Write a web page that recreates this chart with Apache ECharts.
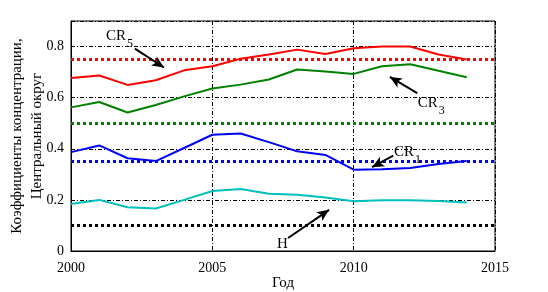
<!DOCTYPE html>
<html>
<head>
<meta charset="utf-8">
<script src="https://cdn.jsdelivr.net/npm/echarts@6/dist/echarts.min.js"></script>
<style>
  html, body { margin: 0; padding: 0; background: #fff; }
  #main { width: 548px; height: 292px; }
</style>
</head>
<body>
<div id="main"></div>
<script type="text/javascript">
    // годы и значения коэффициентов
    var years = [2000, 2001, 2002, 2003, 2004, 2005, 2006, 2007, 2008, 2009, 2010, 2011, 2012, 2013, 2014];
    var cr5 = [0.677, 0.687, 0.650, 0.668, 0.707, 0.723, 0.752, 0.769, 0.788, 0.771, 0.793, 0.800, 0.800, 0.769, 0.749];
    var cr3 = [0.562, 0.583, 0.542, 0.571, 0.605, 0.636, 0.651, 0.671, 0.710, 0.702, 0.693, 0.723, 0.731, 0.705, 0.680];
    var cr1 = [0.387, 0.413, 0.363, 0.352, 0.403, 0.455, 0.460, 0.426, 0.390, 0.376, 0.318, 0.320, 0.325, 0.340, 0.352];
    var hIdx = [0.184, 0.200, 0.171, 0.166, 0.200, 0.235, 0.243, 0.224, 0.220, 0.209, 0.195, 0.199, 0.199, 0.196, 0.190];

    // пороговые уровни (пунктир)
    var levelCR5 = 0.75, levelCR3 = 0.5, levelCR1 = 0.35, levelH = 0.1;

    // подписи со стрелками: текст, индекс, точка подписи, хвост и острие стрелки
    var notes = [
        {text: 'CR', sub: '5', at: [2001.24, 0.843], from: [2002.26, 0.792], to: [2003.29, 0.718]},
        {text: 'CR', sub: '3', at: [2012.27, 0.580], from: [2012.25, 0.618], to: [2011.28, 0.681]},
        {text: 'CR', sub: '1', at: [2011.43, 0.388], from: [2011.40, 0.373], to: [2010.65, 0.328]},
        {text: 'H', sub: '', at: [2007.29, 0.027], from: [2007.68, 0.051], to: [2009.13, 0.161]}
    ];

    var font = '"Liberation Serif", "DejaVu Serif", serif';

    function pairs(vals) {
        return years.map(function (y, i) { return [y, vals[i]]; });
    }

    function level(v, color) {
        return {
            silent: true,
            symbol: 'none',
            label: {show: false},
            lineStyle: {color: color, type: [3, 3], width: 3},
            data: [{yAxis: v}]
        };
    }

    function curve(name, vals, color, lv, lvColor) {
        return {
            name: name,
            type: 'line',
            data: pairs(vals),
            showSymbol: false,
            lineStyle: {color: color, width: 2},
            itemStyle: {color: color},
            z: 3,
            markLine: level(lv, lvColor)
        };
    }

    var myChart = echarts.init(document.getElementById('main'));

    var option = {
        animation: false,
        backgroundColor: '#fff',
        grid: {
            left: 71, right: 53, top: 21, bottom: 41,
            outerBoundsMode: 'none',
            containLabel: false,
            show: true, borderColor: '#000', borderWidth: 1
        },
        xAxis: {
            type: 'value',
            min: 2000, max: 2015, interval: 5,
            name: 'Год',
            nameLocation: 'middle',
            nameGap: 25,
            nameMoveOverlap: false,
            nameTextStyle: {fontFamily: font, fontSize: 15, color: '#000'},
            axisLine: {lineStyle: {color: '#000'}},
            axisTick: {show: false},
            axisLabel: {
                fontFamily: font, fontSize: 14, color: '#000', margin: 10,
                formatter: function (v) { return String(v); }
            },
            splitLine: {show: true, lineStyle: {color: '#000', type: [4, 2, 1, 2], width: 1}}
        },
        yAxis: {
            type: 'value',
            min: 0, max: 0.9, interval: 0.2,
            name: 'Коэффициенты концентрации,\nЦентральный округ',
            nameLocation: 'middle',
            nameGap: 24,
            nameRotate: 90,
            nameMoveOverlap: false,
            nameTextStyle: {fontFamily: font, fontSize: 15, color: '#000', lineHeight: 20},
            axisLine: {lineStyle: {color: '#000'}},
            axisTick: {show: false},
            axisLabel: {fontFamily: font, fontSize: 14, color: '#000', margin: 7, showMaxLabel: false},
            splitLine: {show: true, lineStyle: {color: '#000', type: [4, 2, 1, 2], width: 1}}
        },
        series: [
            curve('CR5', cr5, '#ff0000', levelCR5, '#ff0000'),
            curve('CR3', cr3, '#008000', levelCR3, '#008000'),
            curve('CR1', cr1, '#0000ff', levelCR1, '#0000ff'),
            curve('H', hIdx, '#00bfbf', levelH, '#000000'),
            {
                name: 'arrows',
                type: 'line',
                data: [],
                z: 5,
                markLine: {
                    silent: true,
                    label: {show: false},
                    lineStyle: {color: '#000', type: 'solid', width: 2},
                    data: notes.map(function (n) {
                        return [
                            {coord: n.from, symbol: 'none'},
                            {coord: n.to, symbol: 'arrow', symbolSize: [8, 12]}
                        ];
                    })
                }
            }
        ]
    };

    myChart.setOption(option);

    // подписи CR5, CR3, CR1, H с нижним индексом
    var texts = [];
    notes.forEach(function (n) {
        var p = myChart.convertToPixel({gridIndex: 0}, n.at);
        texts.push({
            type: 'text', x: p[0], y: p[1],
            style: {text: n.text, font: '15px ' + font, fill: '#000', verticalAlign: 'middle'}
        });
        if (n.sub) {
            texts.push({
                type: 'text', x: p[0] + 21, y: p[1] + 8,
                style: {text: n.sub, font: '12px ' + font, fill: '#000', verticalAlign: 'middle'}
            });
        }
    });
    myChart.setOption({graphic: texts});
</script>
</body>
</html>
